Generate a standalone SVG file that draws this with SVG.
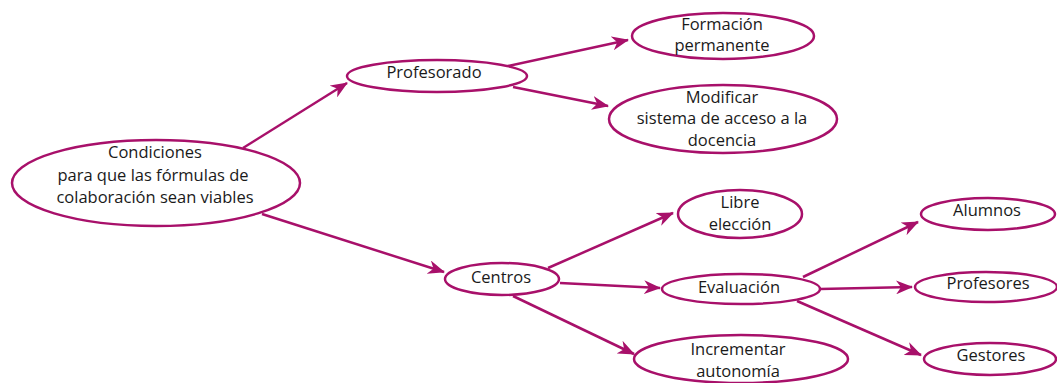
<svg xmlns="http://www.w3.org/2000/svg" width="1057" height="383" viewBox="0 0 1057 383">
<style>
.n ellipse{fill:#fff;stroke:#A8106A;stroke-width:2.5}
.n text{font-family:"Open Sans","Noto Sans",sans-serif;font-size:16.5px;fill:#1a1a1a;text-anchor:middle}
.c line{stroke:#A8106A;stroke-width:2.5;marker-end:url(#a)}
</style>
<defs>
<marker id="a" markerUnits="userSpaceOnUse" markerWidth="18" markerHeight="14" viewBox="0 0 18 14" refX="16" refY="7" orient="auto">
<path d="M0,0 L17,7 L0,14 L5,7 z" fill="#A8106A"/>
</marker>
</defs>
<g class="c">
<line x1="243" y1="148" x2="347" y2="83"/>
<line x1="262" y1="214" x2="444" y2="272"/>
<line x1="508" y1="66" x2="628" y2="40"/>
<line x1="513" y1="87" x2="608" y2="106"/>
<line x1="548" y1="268" x2="673" y2="213"/>
<line x1="560" y1="283" x2="660" y2="288"/>
<line x1="513" y1="296" x2="634" y2="354"/>
<line x1="803" y1="277" x2="918" y2="222"/>
<line x1="820" y1="289" x2="912" y2="287"/>
<line x1="797" y1="301" x2="921" y2="355"/>
</g>
<g id="condiciones" class="n"><ellipse cx="156" cy="183" rx="144" ry="43"/>
<text x="155" y="158">Condiciones</text><text x="153" y="181">para que las fórmulas de</text><text x="155" y="203">colaboración sean viables</text></g>
<g id="profesorado" class="n"><ellipse cx="437" cy="76" rx="90" ry="16"/><text x="434" y="78">Profesorado</text></g>
<g id="formacion" class="n"><ellipse cx="723" cy="36" rx="91" ry="23"/><text x="722" y="30">Formación</text><text x="722" y="51">permanente</text></g>
<g id="modificar" class="n"><ellipse cx="723" cy="119" rx="114" ry="34"/><text x="722" y="103">Modificar</text><text x="722" y="124">sistema de acceso a la</text><text x="722" y="146">docencia</text></g>
<g id="centros" class="n"><ellipse cx="502" cy="279" rx="57" ry="16"/><text x="501" y="283">Centros</text></g>
<g id="libre" class="n"><ellipse cx="740" cy="214" rx="62" ry="24"/><text x="740" y="208">Libre</text><text x="740" y="230">elección</text></g>
<g id="evaluacion" class="n"><ellipse cx="741" cy="289" rx="79" ry="15"/><text x="739" y="293">Evaluación</text></g>
<g id="incrementar" class="n"><ellipse cx="741" cy="359" rx="107" ry="24"/><text x="738" y="355">Incrementar</text><text x="738" y="377">autonomía</text></g>
<g id="alumnos" class="n"><ellipse cx="988" cy="214" rx="67" ry="16"/><text x="987" y="216">Alumnos</text></g>
<g id="profesores" class="n"><ellipse cx="986" cy="287" rx="71" ry="15"/><text x="988" y="289">Profesores</text></g>
<g id="gestores" class="n"><ellipse cx="990" cy="359" rx="66" ry="16"/><text x="991" y="361">Gestores</text></g>
</svg>
